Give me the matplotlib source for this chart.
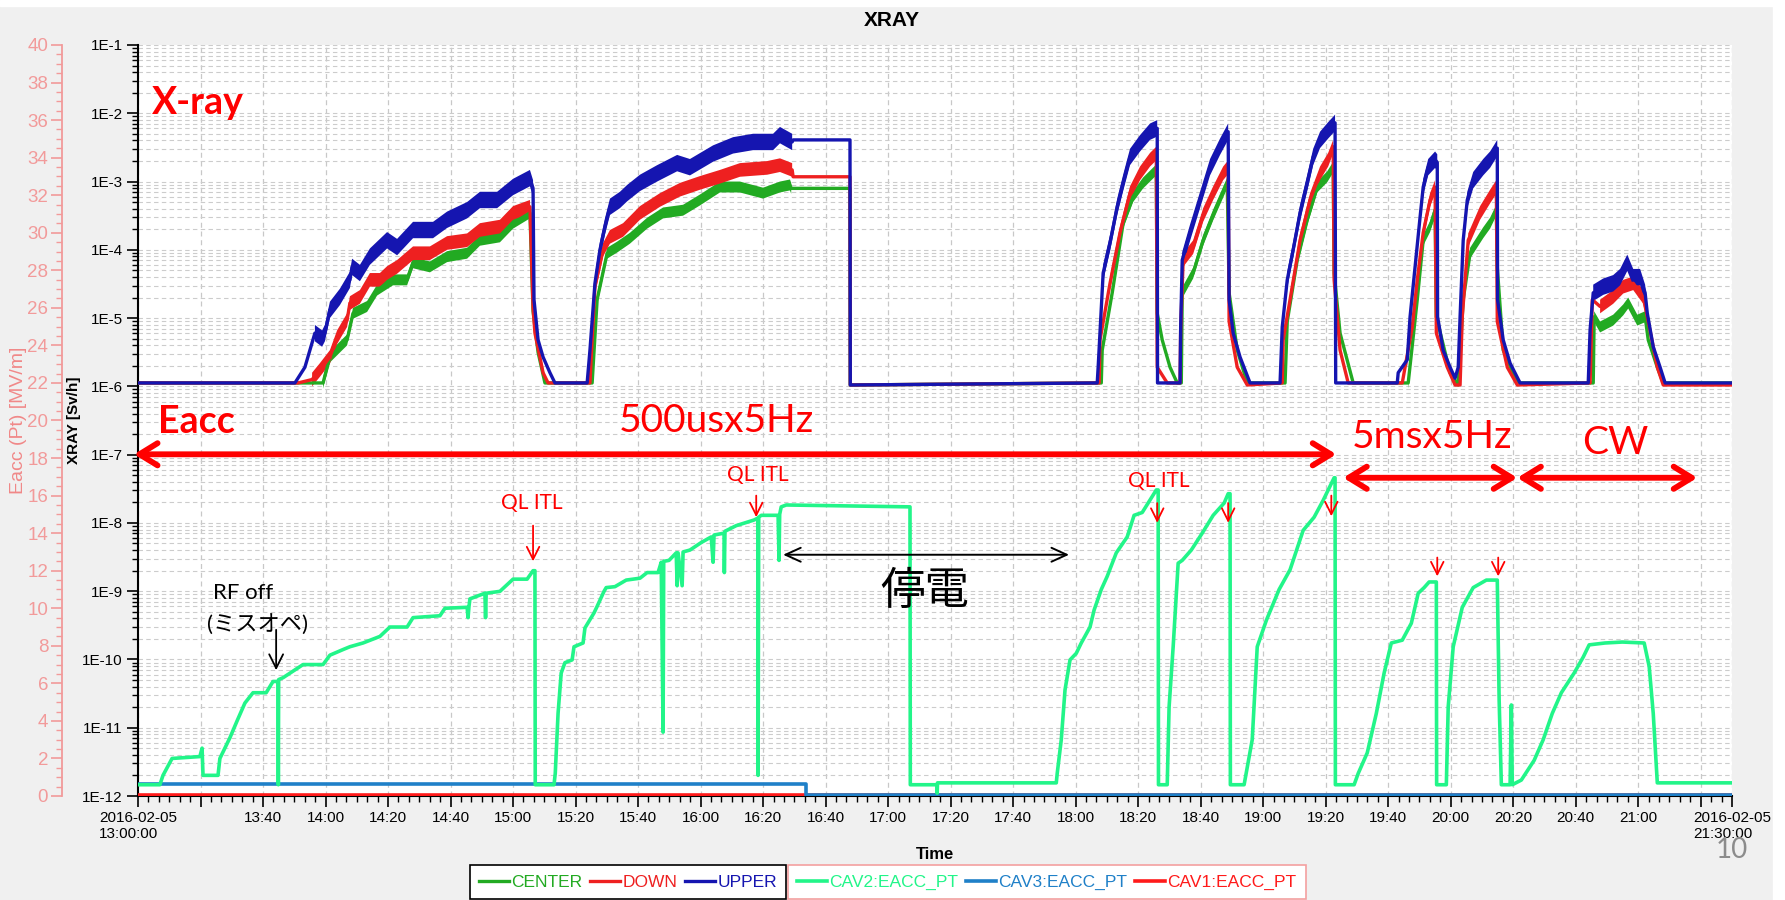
import numpy as np
import matplotlib
matplotlib.use("Agg")
import matplotlib.pyplot as plt
from matplotlib.ticker import FixedLocator, MultipleLocator, LogLocator, NullFormatter
from matplotlib.patches import Rectangle

# ── Data (time = minutes after 2016-02-05 13:00) ─────────────
# X-ray dose rate, stored as log10(Sv/h)
upper_t = [0, 50.2, 53.4, 56.6, 58.9, 59.8, 61.4, 64.6, 67.8, 68.5, 71.0, 74.2, 79.7, 82.9, 88.0, 94.4,
           98.9, 105.3, 109.4, 114.9, 120.0, 125.4, 126.4, 126.7, 128.0, 129.6, 131.8, 133.4,
           143.7, 144.6, 146.2, 147.8, 149.4, 151.0, 154.2, 156.5, 160.6, 166.1, 172.5, 176.6, 184.0,
           190.4, 196.8, 203.2, 205.4, 209.3, 209.6, 227.8, 227.9,
           306.9, 307.2, 308.8, 311.0, 313.3, 315.2, 317.4, 320.6, 323.8, 326.1, 326.2,
           333.4, 333.6, 334.1, 336.6, 339.8, 343.0, 346.2, 348.8, 349.1, 350.4, 352.6, 355.8,
           365.4, 366.1, 367.7, 369.6, 371.8, 374.1, 376.0, 378.2, 380.8, 383.0, 383.2,
           402.9, 403.2, 406.1, 407.0, 408.6, 410.2, 411.2, 412.8, 415.0, 415.7, 415.8, 417.6, 419.8,
           421.4, 422.4, 423.0, 424.0, 425.3, 427.2, 430.4, 432.6, 434.9, 435.0, 436.8, 439.0, 442.2,
           464.0, 464.6, 465.6, 468.8, 472.0, 474.2, 476.5, 478.4, 480.6, 482.2, 482.9, 484.8, 487.0,
           488.6, 510]
upper_v = [-5.95, -5.95, -5.72, -5.22, -5.30, -5.22, -4.88, -4.69, -4.44, -4.25, -4.34, -4.10, -3.86, -3.96, -3.71, -3.71,
           -3.56, -3.42, -3.27, -3.27, -3.08, -2.95, -3.10, -4.73, -5.32, -5.57, -5.80, -5.95,
           -5.95, -5.47, -4.49, -4.00, -3.66, -3.37, -3.27, -3.17, -3.02, -2.88, -2.73, -2.79, -2.59,
           -2.47, -2.42, -2.42, -2.32, -2.42, -2.39, -2.39, -5.98,
           -5.95, -5.72, -4.34, -3.90, -3.37, -3.02, -2.64, -2.44, -2.27, -2.22, -5.95,
           -5.95, -5.13, -4.15, -3.75, -3.27, -2.79, -2.49, -2.27, -4.73, -5.22, -5.57, -5.95,
           -5.95, -5.13, -4.44, -4.00, -3.46, -3.02, -2.64, -2.39, -2.25, -2.14, -5.95,
           -5.95, -5.80, -5.61, -4.98, -4.25, -3.52, -3.08, -2.79, -2.68, -2.72, -4.98, -5.47, -5.72,
           -5.88, -5.72, -4.98, -3.86, -3.27, -2.98, -2.79, -2.68, -2.51, -4.73, -5.32, -5.66, -5.95,
           -5.95, -5.17, -4.63, -4.54, -4.49, -4.40, -4.19, -4.40, -4.40, -4.63, -4.93, -5.42, -5.72,
           -5.95, -5.95]

down_t = [0, 51.2, 55.7, 58.2, 61.4, 63.7, 66.9, 67.8, 71.0, 74.2, 77.4, 79.7, 82.9, 88.0, 93.4, 98.9,
          105.3, 109.4, 115.8, 120.0, 125.4, 126.4, 127.0, 129.6, 131.2,
          144.6, 145.0, 146.2, 148.8, 151.0, 155.2, 160.6, 167.0, 173.4, 179.8, 186.2, 192.6, 201.3,
          205.4, 209.3, 209.6, 227.8, 227.9,
          307.5, 307.8, 311.0, 314.2, 317.4, 320.6, 323.8, 325.8, 326.1, 329.3,
          333.4, 333.6, 334.4, 337.6, 340.8, 344.0, 347.2, 348.8, 349.1, 351.7, 354.9,
          366.1, 366.4, 368.6, 371.8, 375.0, 378.2, 380.8, 382.4, 382.7, 384.6, 387.2,
          404.5, 407.7, 409.3, 411.2, 413.4, 415.0, 415.4, 418.9, 421.4,
          423.0, 423.7, 425.6, 429.4, 432.6, 434.6, 434.9, 438.1, 441.3,
          464.6, 465.3, 467.8, 472.0, 475.2, 478.4, 481.6, 482.9, 486.1, 488.0, 510]
down_v = [-5.95, -5.95, -5.90, -5.76, -5.57, -5.28, -5.03, -4.78, -4.69, -4.44, -4.44, -4.34, -4.25, -4.05, -4.05, -3.90,
          -3.86, -3.71, -3.66, -3.46, -3.37, -4.85, -5.22, -5.80, -5.95,
          -5.95, -5.57, -4.54, -4.00, -3.81, -3.71, -3.46, -3.27, -3.12, -3.02, -2.93, -2.83, -2.80,
          -2.76, -2.83, -2.93, -2.93, -5.98,
          -5.95, -5.32, -4.49, -3.75, -3.17, -2.88, -2.68, -2.59, -5.72, -5.95,
          -5.95, -5.17, -4.15, -3.96, -3.49, -3.17, -2.88, -2.79, -5.05, -5.72, -5.98,
          -5.95, -5.32, -4.73, -3.86, -3.27, -2.88, -2.68, -2.49, -4.44, -5.47, -5.95,
          -5.95, -5.13, -4.44, -3.75, -3.27, -3.08, -5.22, -5.72, -5.98,
          -5.98, -4.98, -3.86, -3.46, -3.22, -3.08, -5.05, -5.72, -5.98,
          -5.95, -4.73, -4.83, -4.69, -4.54, -4.49, -4.69, -4.98, -5.72, -5.98, -5.98]

center_t = [0, 59.2, 61.4, 66.9, 68.8, 73.3, 76.5, 81.6, 86.1, 88.0, 93.4, 98.9, 105.3, 109.4, 115.8,
            120.0, 125.4, 126.4, 128.0, 130.2,
            145.3, 146.9, 150.1, 153.3, 157.4, 162.9, 168.0, 174.4, 179.8, 186.2, 192.6, 200.0, 205.4,
            208.6, 209.0, 227.8, 227.9,
            308.2, 308.5, 311.7, 315.2, 318.4, 321.6, 325.8, 326.1, 327.7, 330.2, 332.5,
            333.8, 334.1, 337.6, 340.8, 344.0, 348.5, 349.1, 351.7, 354.9,
            367.0, 367.7, 370.9, 374.1, 377.3, 380.5, 382.4, 382.7, 384.6, 388.8,
            406.4, 409.3, 411.2, 413.4, 415.0, 415.4, 419.8, 422.4,
            424.0, 426.2, 430.4, 432.6, 434.6, 434.9, 436.8, 441.3,
            465.6, 465.9, 467.8, 472.0, 475.2, 476.8, 479.7, 482.2, 483.2, 486.1, 488.0, 510]
center_v = [-5.95, -5.95, -5.57, -5.32, -4.93, -4.83, -4.59, -4.44, -4.44, -4.19, -4.25, -4.10, -4.05, -3.86, -3.81,
            -3.61, -3.46, -4.90, -5.50, -5.95,
            -5.95, -4.73, -4.05, -3.96, -3.83, -3.61, -3.46, -3.42, -3.27, -3.08, -3.08, -3.17, -3.08,
            -3.05, -3.10, -3.10, -5.98,
            -5.95, -5.47, -4.63, -3.61, -3.22, -3.02, -2.83, -4.93, -5.32, -5.72, -5.95,
            -5.95, -4.63, -4.34, -3.86, -3.49, -3.02, -4.63, -5.47, -5.95,
            -5.95, -5.05, -4.15, -3.56, -3.08, -2.93, -2.79, -4.34, -5.22, -5.95,
            -5.95, -4.73, -3.86, -3.66, -3.42, -4.98, -5.80, -5.98,
            -4.73, -4.05, -3.75, -3.61, -3.42, -4.25, -5.47, -5.95,
            -5.95, -4.98, -5.13, -5.03, -4.88, -4.78, -5.03, -4.98, -5.32, -5.72, -5.95, -5.95]

# spread of the noisy x-ray signal (decades) and where it is noisy
noise_dec = {"CENTER": 0.08, "DOWN": 0.10, "UPPER": 0.12}
noisy_windows = [(55, 126.4), (146, 209.5), (308.5, 326.1), (334, 349), (367, 383),
                 (406, 415.7), (424, 435), (465.5, 483)]

# Eacc of cavity 2 [MV/m]
cav2_t = [0, 7.0, 8.0, 10.9, 19.8, 20.5, 20.8, 25.6, 26.2, 29.4, 31.7, 34.2, 36.8, 41.0, 43.2,
          44.8, 44.9, 45.0, 46.4, 52.8, 59.2, 61.4, 65.6, 67.8, 72.0, 77.4, 80.6, 86.1, 88.0, 96.6,
          98.2, 105.3, 105.6, 105.9, 106.2, 111.0, 111.2, 111.4, 115.8, 120.0, 124.5, 126.4, 127.0,
          127.1, 133.1, 133.5, 134.4, 135.4, 136.6, 138.9, 139.5, 142.4, 143.0, 145.9, 146.9, 149.1,
          149.8, 152.6, 156.2, 160.6, 162.9, 166.4, 167.4, 168.0, 168.2, 169.9, 172.2, 172.5, 172.8,
          174.1, 174.4, 176.6, 180.2, 183.4, 184.0, 184.3, 187.5, 187.6, 187.8, 191.4, 197.1, 198.3,
          198.4, 198.6, 199.4, 204.8, 205.1, 205.3, 205.8, 207.4, 247.0, 247.1, 255.6, 255.7,
          255.8, 293.8, 294.1, 295.4, 296.6, 298.2, 300.2, 301.8, 304.6, 305.9, 308.2, 310.1, 313.0,
          316.5, 318.7, 321.3, 325.8, 326.4, 326.5, 329.3, 329.9, 331.2, 332.8, 334.1, 337.0, 340.5,
          344.0, 347.5, 348.8, 349.4, 349.5, 353.9, 356.5, 358.1, 361.0, 365.1, 368.6, 372.8, 376.3,
          379.2, 382.7, 383.0, 383.1, 389.1, 390.4, 393.3, 396.2, 398.7, 401.0, 404.5, 407.4, 409.6,
          411.5, 413.1, 415.4, 415.5, 418.6, 419.2, 420.8, 423.7, 427.2, 431.4, 434.9, 435.5, 436.2,
          439.0, 439.4, 439.7, 442.6, 446.7, 449.6, 452.5, 455.4, 459.5, 462.4, 464.3, 469.4, 474.9,
          481.9, 483.5, 484.8, 486.1, 510]
cav2_v = [0.6, 0.6, 1.1, 2.0, 2.1, 2.55, 1.1, 1.1, 2.0, 3.1, 4.0, 4.95, 5.5, 5.5, 6.1,
          6.1, 0.6, 6.2, 6.3, 7.0, 7.0, 7.5, 7.8, 7.95, 8.15, 8.5, 9.0, 9.0, 9.5, 9.6,
          10.0, 10.05, 9.5, 10.1, 10.5, 10.8, 9.5, 10.8, 10.9, 11.55, 11.55, 12.0, 12.0,
          0.6, 0.6, 1.2, 4.4, 6.55, 7.1, 7.25, 7.95, 8.15, 8.95, 9.75, 10.1, 10.9,
          11.1, 11.15, 11.5, 11.6, 11.9, 11.9, 12.45, 3.4, 12.5, 12.55, 12.95, 11.2, 12.95,
          11.2, 13.0, 13.1, 13.5, 13.8, 12.45, 13.9, 14.0, 11.9, 14.1, 14.4, 14.7, 14.8,
          1.1, 14.85, 14.95, 14.95, 12.55, 15.0, 15.4, 15.5, 15.4, 0.6, 0.6, 0.15,
          0.7, 0.7, 1.2, 3.0, 5.65, 7.25, 7.6, 8.15, 9.0, 9.9, 11.0, 11.7, 12.95,
          13.8, 14.95, 15.1, 16.3, 16.3, 0.6, 0.6, 4.75, 7.95, 12.4, 12.55, 13.1, 14.0,
          14.95, 15.6, 16.1, 16.1, 0.6, 0.6, 3.0, 7.95, 9.35, 11.0, 12.05, 14.15, 14.85,
          15.75, 16.95, 16.95, 0.6, 0.6, 1.2, 2.3, 4.4, 6.55, 8.15, 8.3, 9.2, 10.8,
          11.1, 11.4, 11.4, 0.6, 0.6, 4.75, 7.95, 10.05, 11.1, 11.5, 11.5, 5.1, 0.6,
          0.6, 4.85, 0.6, 0.85, 1.9, 3.0, 4.4, 5.5, 6.55, 7.4, 8.05, 8.15, 8.2,
          8.15, 6.9, 4.4, 0.7, 0.7]

cav3_t = [0, 213.8, 213.8, 510]
cav3_v = [0.65, 0.65, 0.03, 0.03]
cav1_t = [0, 510]
cav1_v = [0.05, 0.05]

xray_series = [("CENTER", center_t, center_v, "#22aa22"),
               ("DOWN", down_t, down_v, "#ee2020"),
               ("UPPER", upper_t, upper_v, "#1515b0")]
eacc_series = [("CAV1:EACC_PT", cav1_t, cav1_v, "#ff1a1a"),
               ("CAV3:EACC_PT", cav3_t, cav3_v, "#1f80c8"),
               ("CAV2:EACC_PT", cav2_t, cav2_v, "#22f589")]

x_major = list(range(0, 501, 20)) + [510]
y_decades = [10.0 ** e for e in range(-12, 0)]
y_labels = ["1E-%d" % (-e) for e in range(-12, 0)]

# ── Figure ────────────────────────────────────────────────────
TICK_FONT = "Liberation Sans"
NOTE_FONT = ["Lato", "Noto Sans CJK JP", "DejaVu Sans"]
PINK = "#f29a9a"

fig = plt.figure(figsize=(17.85, 9.0), dpi=100, facecolor="#f0f0f0")
ax = fig.add_axes([138 / 1785, 1 - 796 / 900, (1732 - 138) / 1785, (796 - 45) / 900])
ax.set_facecolor("white")

for name, t, v, col in xray_series:
    t = np.asarray(t)
    v = np.asarray(v)
    mask = np.zeros(len(t), dtype=bool)
    for a, b in noisy_windows:
        mask |= (t >= a) & (t <= b)
    hw = noise_dec[name]
    ax.fill_between(t, 10 ** (v - hw), 10 ** (v + hw), where=mask, color=col, lw=0, zorder=2)
    ax.plot(t, 10 ** v, color=col, lw=2.4, label=name, zorder=3)

ax.set_yscale("log")
ax.set_xlim(0, 510)
ax.set_ylim(1e-12, 1e-1)

# x ticks
ax.xaxis.set_major_locator(FixedLocator(x_major))
ax.xaxis.set_minor_locator(MultipleLocator(20 / 6))
xlabels = []
for m in x_major:
    if m == 0:
        xlabels.append("2016-02-05\n13:00:00")
    elif m == 510:
        xlabels.append("2016-02-05\n21:30:00")
    elif m in (20, 500):
        xlabels.append("")
    else:
        xlabels.append("%d:%02d" % (13 + m // 60, m % 60))
ax.set_xticklabels(xlabels, fontsize=11, family=TICK_FONT)
for lab in ax.get_xticklabels():
    lab.set_multialignment("left")

# y ticks
ax.yaxis.set_major_locator(FixedLocator(y_decades))
ax.set_yticklabels(y_labels, fontsize=11, family=TICK_FONT)
ax.yaxis.set_minor_locator(LogLocator(base=10, subs=np.arange(2, 10), numticks=20))
ax.yaxis.set_minor_formatter(NullFormatter())
ax.tick_params(axis="both", which="major", length=8, width=1.2, color="black", pad=3)
ax.tick_params(axis="both", which="minor", length=4, width=1.0, color="black")

# grid
ax.grid(True, axis="x", which="major", color="#c8c8c8", ls=(0, (4, 3)), lw=0.9)
ax.grid(True, axis="y", which="both", color="#cccccc", ls=(0, (4, 3)), lw=0.8)
ax.set_axisbelow(True)
for s in ("top", "right"):
    ax.spines[s].set_visible(False)
ax.spines["left"].set_linewidth(1.5)
ax.spines["bottom"].set_linewidth(1.5)

ax.set_xlabel("Time", fontsize=12, fontweight="bold", family=TICK_FONT, labelpad=4)
ax.set_ylabel("XRAY [Sv/h]", fontsize=11, fontweight="bold", family=TICK_FONT)
ax.yaxis.set_label_coords(-0.0358, 0.5)

# Eacc axis on the far left
ax2 = ax.twinx()
for name, t, v, col in eacc_series:
    ax2.plot(t, v, color=col, lw=2.6, label=name, zorder=3)
ax2.set_ylim(0, 40)
ax2.set_xlim(0, 510)
ax2.yaxis.tick_left()
ax2.yaxis.set_label_position("left")
ax2.spines["left"].set_position(("outward", 54.7))
ax2.spines["left"].set_color(PINK)
ax2.spines["left"].set_linewidth(1.3)
for s in ("top", "right", "bottom"):
    ax2.spines[s].set_visible(False)
ax2.yaxis.set_major_locator(MultipleLocator(2))
ax2.yaxis.set_minor_locator(MultipleLocator(0.5))
ax2.tick_params(axis="y", which="major", length=8, width=1.2, colors=PINK, labelsize=13.5, pad=2)
ax2.tick_params(axis="y", which="minor", length=4, width=1.0, color=PINK)
for lab in ax2.get_yticklabels():
    lab.set_family(TICK_FONT)
ax2.set_ylabel("Eacc (Pt) [MV/m]", fontsize=14, color="#f08888", family=TICK_FONT)
ax2.yaxis.set_label_coords(-0.0696, 0.5)

# ── Annotations (Eacc axis data coordinates) ──────────────────
ax2.text(4.5, 36.9, "X-ray", color="red", fontsize=27, fontweight="bold", family=NOTE_FONT,
         ha="left", va="center")
ax2.text(6.4, 19.9, "Eacc", color="red", fontsize=27, fontweight="bold", family=NOTE_FONT,
         ha="left", va="center")

big = dict(arrowstyle="<->,head_length=1.3,head_width=0.8", color="red", lw=4.2,
           shrinkA=0, shrinkB=0)
ax2.annotate("", xy=(383.4, 18.2), xytext=(-1.3, 18.2), arrowprops=big, annotation_clip=False)
ax2.annotate("", xy=(441.3, 16.95), xytext=(385.6, 16.95), arrowprops=big)
ax2.annotate("", xy=(498.9, 16.95), xytext=(441.3, 16.95), arrowprops=big)
ax2.text(185, 20.0, "500usx5Hz", color="red", fontsize=28, family=NOTE_FONT, ha="center", va="center")
ax2.text(414, 19.1, "5msx5Hz", color="red", fontsize=28, family=NOTE_FONT, ha="center", va="center")
ax2.text(472.6, 18.8, "CW", color="red", fontsize=28, family=NOTE_FONT, ha="center", va="center")

for x, y in [(126, 15.6), (198.4, 17.1), (326.5, 16.8)]:
    ax2.text(x, y, "QL ITL", color="red", fontsize=15, family=NOTE_FONT, ha="center", va="center")

small = dict(arrowstyle="->,head_length=0.9,head_width=0.45", color="red", lw=1.3,
             shrinkA=0, shrinkB=0)
for x, y0, y1 in [(126.4, 14.4, 12.5), (197.8, 16.0, 14.85), (326.1, 15.6, 14.55),
                  (348.8, 15.6, 14.55), (381.8, 16.0, 14.9), (415.7, 12.7, 11.7),
                  (435.2, 12.7, 11.7)]:
    ax2.annotate("", xy=(x, y1), xytext=(x, y0), arrowprops=small)

ax2.text(24, 10.8, "RF off", color="black", fontsize=16, family=NOTE_FONT, ha="left", va="center")
ax2.text(22, 9.1, "(ミスオペ)", color="black", fontsize=16, family=NOTE_FONT, ha="left", va="center")
ax2.annotate("", xy=(44.2, 6.7), xytext=(44.2, 8.85),
             arrowprops=dict(arrowstyle="->,head_length=1.0,head_width=0.5", color="black",
                             lw=1.3, shrinkA=0, shrinkB=0))

ax2.annotate("", xy=(297.9, 12.85), xytext=(206.4, 12.85),
             arrowprops=dict(arrowstyle="<->,head_length=1.1,head_width=0.5", color="black",
                             lw=1.4, shrinkA=0, shrinkB=0))
ax2.text(251.8, 10.9, "停電", color="black", fontsize=32, family=NOTE_FONT, ha="center", va="center")

# ── Legends ───────────────────────────────────────────────────
h1, l1 = ax.get_legend_handles_labels()
h2, l2 = ax2.get_legend_handles_labels()
order2 = [l2.index("CAV2:EACC_PT"), l2.index("CAV3:EACC_PT"), l2.index("CAV1:EACC_PT")]
h2 = [h2[i] for i in order2]
l2 = [l2[i] for i in order2]

common = dict(ncol=3, loc="upper center", handlelength=1.7, handletextpad=0.15,
              columnspacing=0.45, borderpad=0.55, borderaxespad=0, fancybox=False, framealpha=1,
              prop={"family": TICK_FONT, "size": 12.5})
leg1 = fig.legend(h1, l1, bbox_to_anchor=(628 / 1785, 1 - 865 / 900), edgecolor="black", **common)
leg2 = fig.legend(h2, l2, bbox_to_anchor=(1047 / 1785, 1 - 865 / 900), edgecolor="#f4a0a0", **common)
for leg, cols in [(leg1, ["#22aa22", "#ee2020", "#1515b0"]),
                  (leg2, ["#22f589", "#1f80c8", "#ff1a1a"])]:
    leg.get_frame().set_linewidth(1.2)
    for txt, c in zip(leg.get_texts(), cols):
        txt.set_color(c)

fig.text(892 / 1785, 1 - 20 / 900, "XRAY", fontsize=15, fontweight="bold", family=TICK_FONT,
         ha="center", va="center")
fig.text(1732 / 1785, 1 - 850 / 900, "10", fontsize=20, color="#8c8c8c", family=NOTE_FONT,
         ha="center", va="center")

fig.patches.append(Rectangle((0, 1 - 6 / 900), 1, 6 / 900, transform=fig.transFigure,
                             color="white", zorder=-1))
fig.patches.append(Rectangle((1773 / 1785, 0), 12 / 1785, 1, transform=fig.transFigure,
                             color="white", zorder=-1))

fig.savefig("out.png", dpi=100, facecolor=fig.get_facecolor())
print("Saved → out.png")
